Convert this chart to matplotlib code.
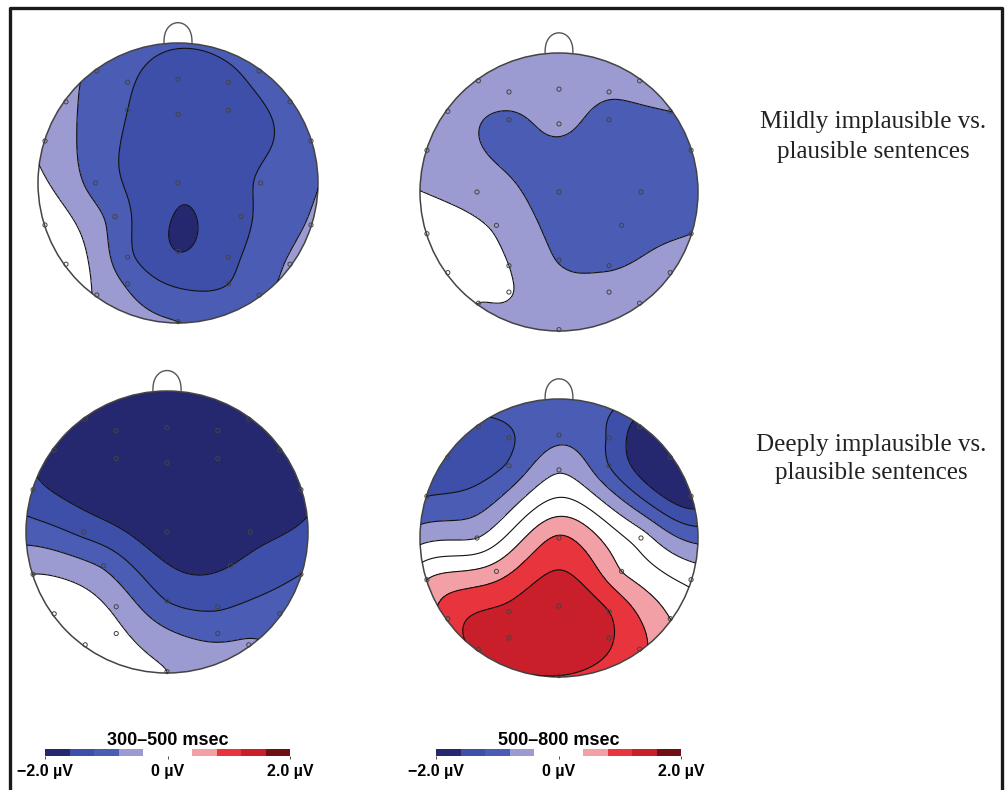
import numpy as np
import matplotlib
matplotlib.use("Agg")
import matplotlib.pyplot as plt
from matplotlib.colors import ListedColormap, BoundaryNorm
from matplotlib.patches import Circle

# electrode positions (head radius = 1, nose up)
elec_x = [-0.58, 0.58, -0.80, 0.80, -0.95, 0.95, -0.95, 0.95, -0.80, 0.80, -0.58, 0.58, 0.00,
          -0.36, 0.00, 0.36, -0.36, 0.00, 0.36, -0.59, 0.00, 0.59, -0.45, 0.45, 0.00, -0.36, 0.36, -0.36, 0.36]
elec_y = [0.80, 0.80, 0.58, 0.58, 0.30, 0.30, -0.30, -0.30, -0.58, -0.58, -0.80, -0.80, -0.99,
          0.72, 0.74, 0.72, 0.52, 0.49, 0.52, 0.00, 0.00, 0.00, -0.24, -0.24, -0.49, -0.53, -0.53, -0.72, -0.72]

# difference amplitudes (µV)
vals_mild_300 = [-0.90, -1.00, -0.70, -1.00, -0.50, -0.95, -0.10, -0.75, -0.10, -0.75, -0.45, -0.90, -0.80,
                 -1.15, -1.40, -1.35, -1.20, -1.40, -1.40, -0.95, -1.55, -1.15, -0.95, -1.30, -1.60, -1.10, -1.30, -0.85, -1.20]
vals_mild_500 = [-0.60, -0.65, -0.65, -0.80, -0.55, -0.90, -0.25, -0.80, -0.20, -0.60, -0.40, -0.55, -0.60,
                 -0.60, -0.60, -0.75, -0.88, -0.72, -0.92, -0.55, -1.00, -1.00, -0.45, -1.00, -0.82, -0.40, -0.85, -0.38, -0.60]
vals_deep_300 = [-1.80, -2.00, -1.75, -2.00, -1.50, -1.80, -0.40, -1.20, -0.10, -1.00, -0.10, -0.75, -0.40,
                 -2.10, -2.20, -2.20, -2.10, -2.20, -2.20, -1.30, -1.90, -1.75, -0.85, -1.60, -1.20, -0.50, -1.25, -0.30, -0.90]
vals_deep_500 = [-1.30, -1.75, -1.45, -2.10, -1.20, -1.85, 0.40, -0.10, 1.00, 0.40, 1.30, 0.90, 1.20,
                 -1.25, -0.88, -1.25, -1.15, -0.45, -1.20, -0.40, 0.85, -0.20, 0.60, 0.40, 1.50, 1.30, 1.20, 1.45, 1.25]

fill_levels = [-9, -1.6, -1.2, -0.8, -0.4, 0.4, 0.8, 1.2, 1.6, 9]
line_levels = [-1.6, -1.2, -0.8, -0.4, 0.0, 0.4, 0.8, 1.2, 1.6]
band_colors = ["#26286f", "#3d4fa8", "#4a5cb4", "#9b9bd2", "#ffffff",
               "#f2a0a5", "#e8343c", "#c81f2a", "#6e0f14"]
cbar_edges = [-2.0, -1.6, -1.2, -0.8, -0.4, 0.4, 0.8, 1.2, 1.6, 2.0]

row_labels = ["Mildly implausible vs.\nplausible sentences",
              "Deeply implausible vs.\nplausible sentences"]
window_labels = ["300\u2013500 msec", "500\u2013800 msec"]

W, H = 1005, 790


def px_axes(fig, cx, cy, half):
    # axes centred on pixel (cx, cy) from top-left, square of 2*half pixels
    return fig.add_axes([(cx - half) / W, 1 - (cy + half) / H, 2 * half / W, 2 * half / H])


def biharmonic(xe, ye, ve, xg, yg):
    # griddata 'v4' style spline
    pts = np.column_stack([xe, ye])
    d = np.hypot(pts[:, None, 0] - pts[None, :, 0], pts[:, None, 1] - pts[None, :, 1])
    with np.errstate(divide="ignore", invalid="ignore"):
        g = np.where(d > 0, d ** 2 * (np.log(d) - 1), 0.0)
    w = np.linalg.solve(g, np.asarray(ve))
    dg = np.hypot(xg[..., None] - pts[:, 0], yg[..., None] - pts[:, 1])
    with np.errstate(divide="ignore", invalid="ignore"):
        gg = np.where(dg > 0, dg ** 2 * (np.log(dg) - 1), 0.0)
    return gg @ w


def topo(ax, values):
    grid = np.linspace(-1.05, 1.05, 260)
    gx, gy = np.meshgrid(grid, grid)
    z = biharmonic(elec_x, elec_y, values, gx, gy)
    clip = Circle((0, 0), 1.0, transform=ax.transData)
    cf = ax.contourf(gx, gy, z, levels=fill_levels, colors=band_colors)
    cf.set_clip_path(clip)
    cl = ax.contour(gx, gy, z, levels=line_levels, colors="#111111",
                    linewidths=0.8, linestyles="solid")
    cl.set_clip_path(clip)
    ax.add_patch(Circle((0, 0), 1.0, fill=False, ec="#444444", lw=1.1))
    t = np.linspace(0, np.pi, 60)
    ax.plot(0.1 * np.cos(t), 1.0 + 0.145 * np.sin(t) ** 0.8, color="#555555", lw=1.0)
    ax.scatter(elec_x, elec_y, s=9, facecolors="none", edgecolors="#444444", linewidths=0.7, zorder=5)
    ax.set_xlim(-1.25, 1.25)
    ax.set_ylim(-1.25, 1.25)
    ax.set_aspect("equal")
    ax.axis("off")


def colorbar(fig, x0, x1, y, title):
    ax = fig.add_axes([x0 / W, 1 - (y + 7) / H, (x1 - x0) / W, 7 / H])
    cmap = ListedColormap(band_colors)
    norm = BoundaryNorm(fill_levels, cmap.N)
    mids = [(a + b) / 2 for a, b in zip(cbar_edges[:-1], cbar_edges[1:])]
    ax.pcolormesh(cbar_edges, [0, 1], np.array([mids]), cmap=cmap, norm=norm)
    ax.set_xlim(-2, 2)
    ax.set_yticks([])
    for s in ax.spines.values():
        s.set_visible(False)
    ax.set_xticks([-2, 0, 2])
    ax.set_xticklabels(["\u22122.0 \u00b5V", "0 \u00b5V", "2.0 \u00b5V"],
                       fontsize=11.5, fontweight="bold", family="Liberation Sans")
    ax.tick_params(axis="x", length=2, width=0.6, pad=4, color="#333333")
    ax.set_title(title, fontsize=13, fontweight="bold", family="Liberation Sans", pad=3)


fig = plt.figure(figsize=(W / 100, H / 100), dpi=100)

heads = [(178, 183, 140, vals_mild_300), (559, 192, 139, vals_mild_500),
         (167, 532, 141, vals_deep_300), (559, 538, 139, vals_deep_500)]
for cx, cy, r, vals in heads:
    ax = px_axes(fig, cx, cy, 1.25 * r)
    topo(ax, vals)

fig.text(873 / W, 1 - 137 / H, row_labels[0], ha="center", va="center",
         fontsize=18, family="Liberation Serif", color="#222222", linespacing=1.45)
fig.text(871 / W, 1 - 459 / H, row_labels[1], ha="center", va="center",
         fontsize=18, family="Liberation Serif", color="#222222", linespacing=1.3)

colorbar(fig, 45, 290, 749, window_labels[0])
colorbar(fig, 436, 681, 749, window_labels[1])

# open-bottom frame around the panel
frame = fig.add_axes([0, 0, 1, 1], zorder=-1)
frame.set_xlim(0, W)
frame.set_ylim(H, 0)
frame.axis("off")
frame.plot([10, 10, 1002, 1002], [H + 5, 8, 8, H + 5], color="#1a1a1a", lw=2.4)

fig.savefig("out.png", dpi=100)
